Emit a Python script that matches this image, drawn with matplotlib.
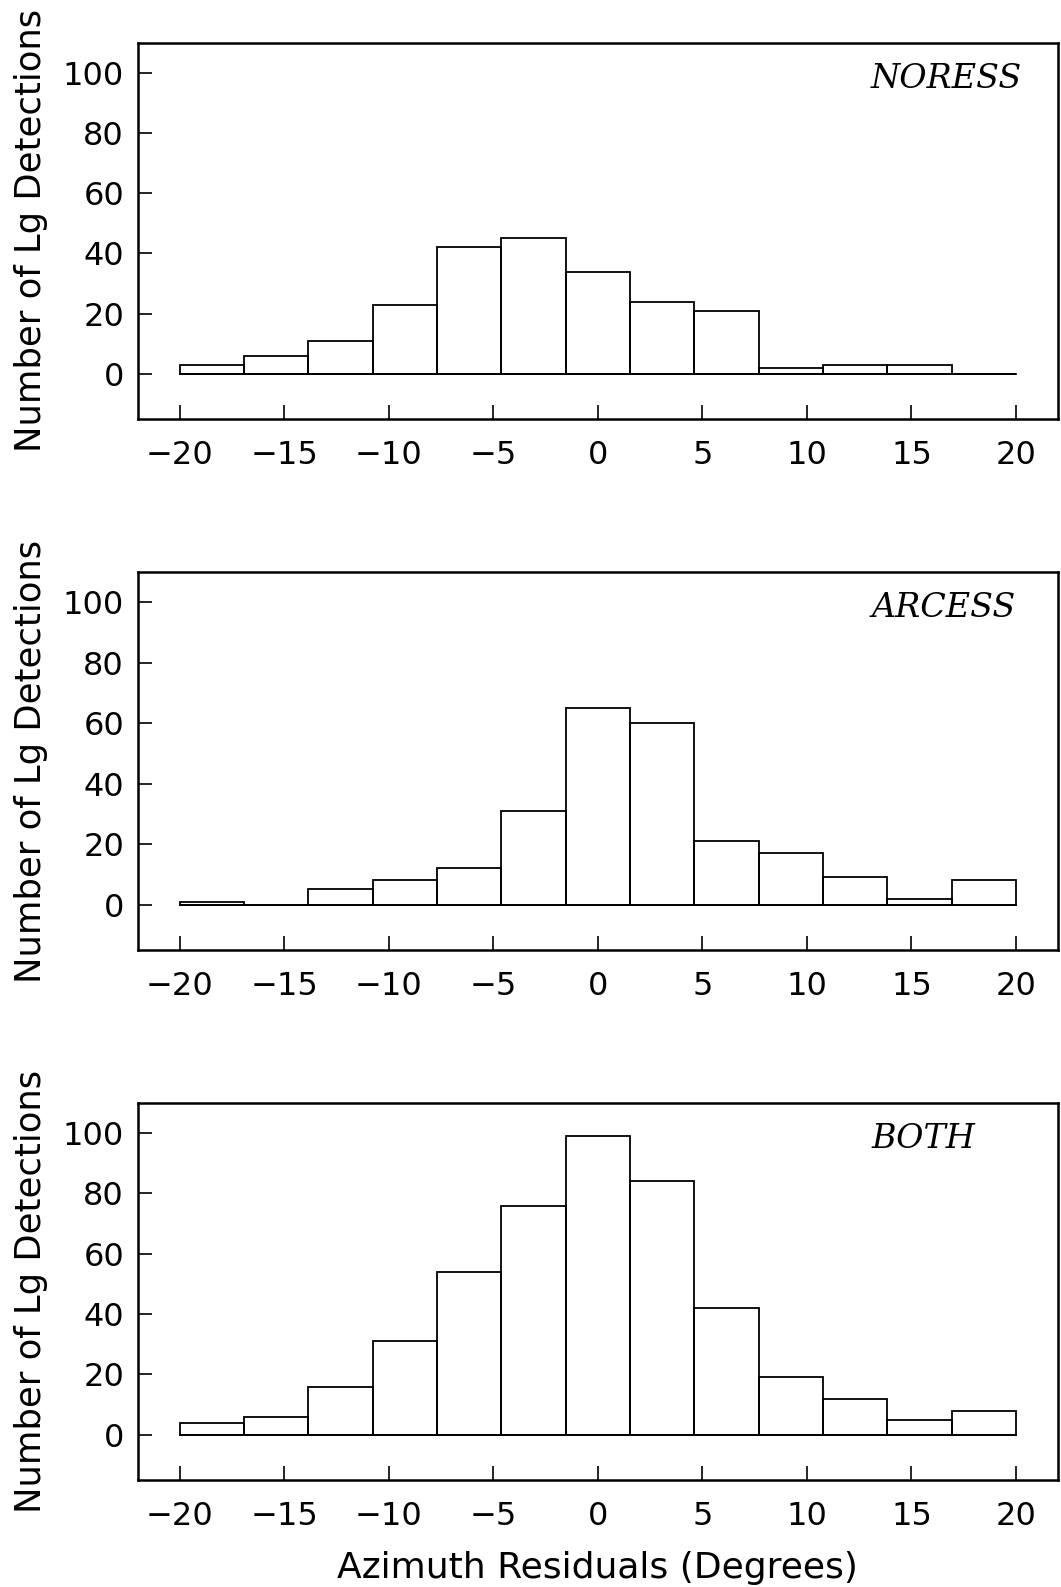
import numpy as np
import matplotlib
matplotlib.use('Agg')
import matplotlib.pyplot as plt

# Lg azimuth residual histograms, 13 equal bins from -20 to 20 degrees
bin_edges = np.linspace(-20, 20, 14)

noress = [3, 6, 11, 23, 42, 45, 34, 24, 21, 2, 3, 3, 0]
arcess = [1, 0, 5, 8, 12, 31, 65, 60, 21, 17, 9, 2, 8]
both = [4, 6, 16, 31, 54, 76, 99, 84, 42, 19, 12, 5, 8]

panels = [('NORESS', noress), ('ARCESS', arcess), ('BOTH', both)]

x_ticks = [-20, -15, -10, -5, 0, 5, 10, 15, 20]
y_ticks = [0, 20, 40, 60, 80, 100]

fig = plt.figure(figsize=(10.61, 15.87), dpi=100)

# axes boxes: [left, bottom, width, height] in figure fractions
boxes = [
    [0.130, 0.736, 0.867, 0.237],
    [0.130, 0.4014, 0.867, 0.2382],
    [0.130, 0.0674, 0.867, 0.2376],
]

for (name, counts), box in zip(panels, boxes):
    ax = fig.add_axes(box)
    ax.bar(bin_edges[:-1], counts, width=np.diff(bin_edges), align='edge',
           fill=False, edgecolor='black', linewidth=1.3)
    ax.plot([bin_edges[0], bin_edges[-1]], [0, 0], color='black', linewidth=1.3)

    ax.set_xlim(-22, 22)
    ax.set_ylim(-15, 110)
    ax.set_xticks(x_ticks)
    ax.set_yticks(y_ticks)
    ax.tick_params(direction='in', length=10, width=1.2, labelsize=23,
                   top=False, right=False)
    ax.tick_params(axis='x', pad=15)
    ax.tick_params(axis='y', pad=10)
    for s in ax.spines.values():
        s.set_linewidth(1.8)

    ax.set_ylabel('Number of Lg Detections', fontsize=25.5, labelpad=11)
    ax.text(0.797, 0.905, name, transform=ax.transAxes, ha='left', va='center',
            fontsize=24, family='DejaVu Serif', style='italic')

ax.set_xlabel('Azimuth Residuals (Degrees)', fontsize=26, labelpad=14)

fig.savefig('out.png', dpi=100)
